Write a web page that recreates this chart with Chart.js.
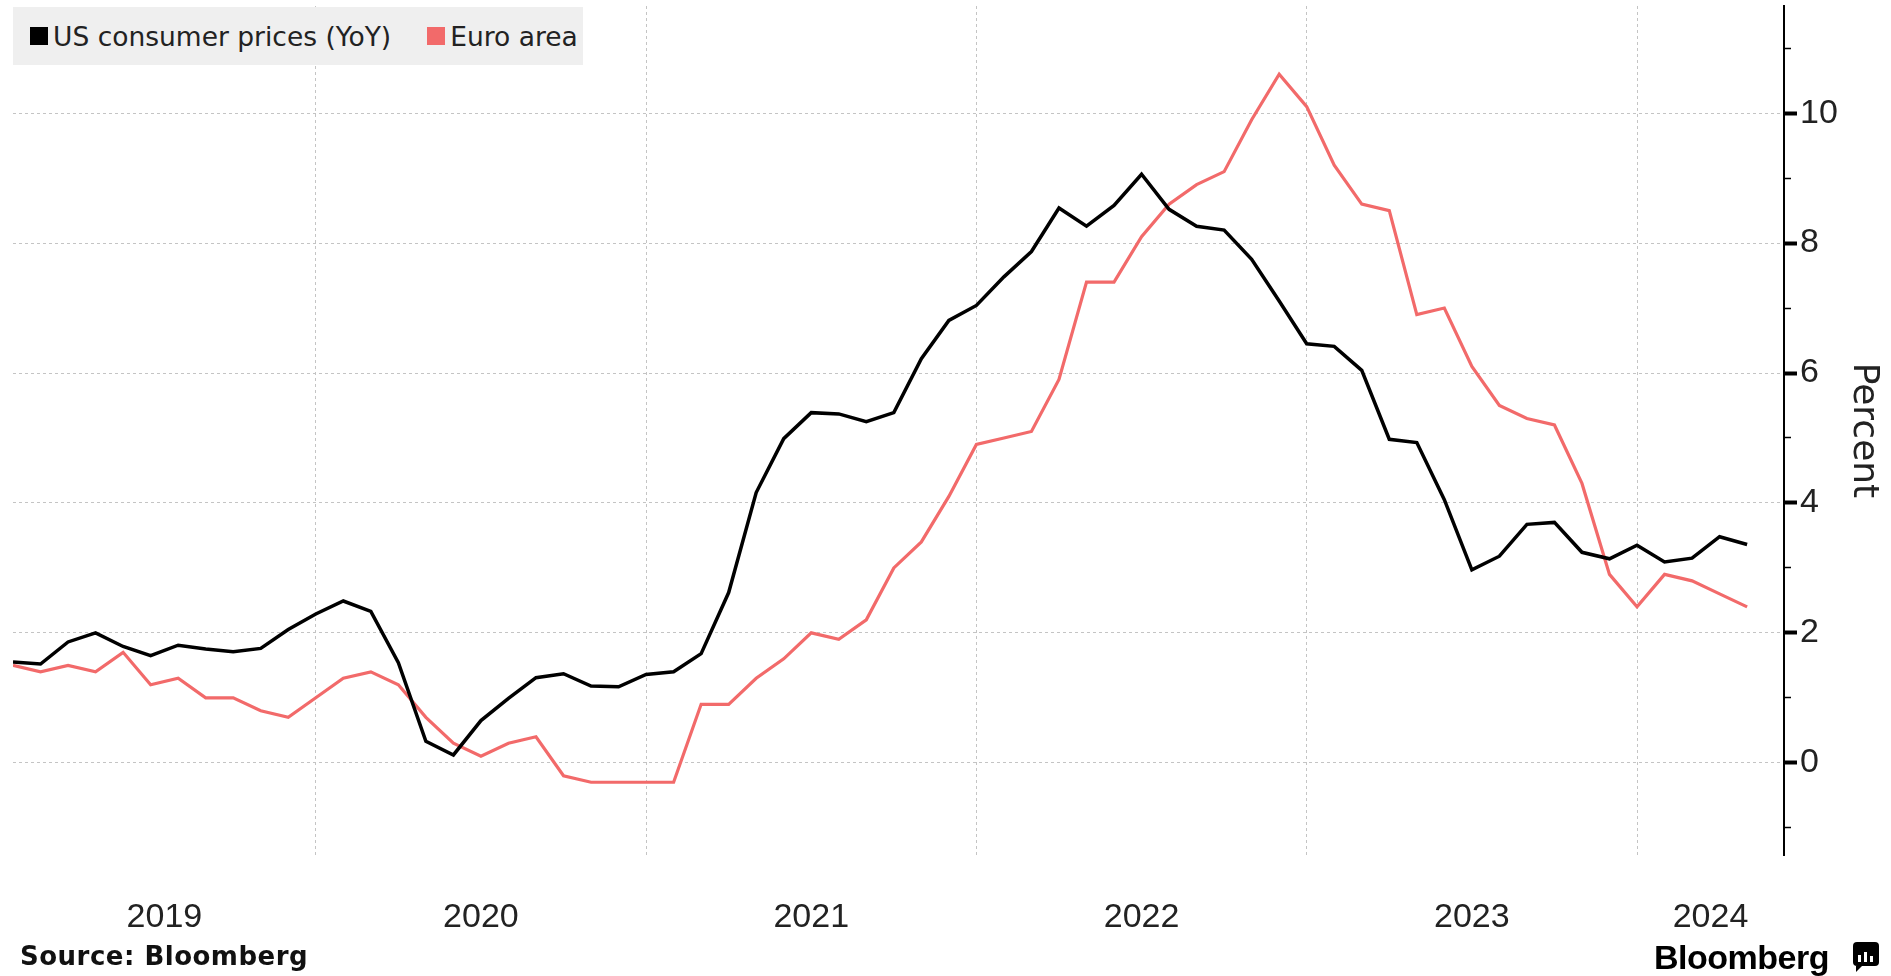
<!DOCTYPE html>
<html>
<head>
<meta charset="utf-8">
<title>US vs Euro area inflation</title>
<script src="https://cdn.jsdelivr.net/npm/chart.js@4.4.1/dist/chart.umd.min.js"></script>
<style>
  html, body { margin: 0; padding: 0; background: #fff; }
  #wrap { position: relative; width: 1891px; height: 976px; }
  #myChart { position: absolute; left: 0; top: 0; }
  #legend {
    position: absolute; left: 13px; top: 7px; width: 570px; height: 58px;
    background: #efefef; font-family: 'DejaVu Sans', sans-serif; font-size: 26.5px; color: #222;
    display: flex; align-items: center; white-space: nowrap;
  }
  #legend .item { display: flex; align-items: center; margin-left: 17px; }
  #legend .item + .item { margin-left: 36px; }
  #legend .box { width: 18px; height: 18px; margin-right: 5px; }
  #source {
    position: absolute; left: 20px; top: 941px; font-family: 'DejaVu Sans', sans-serif;
    font-weight: bold; font-size: 26px; letter-spacing: 0.5px; color: #111;
  }
  #brand {
    position: absolute; left: 1654px; top: 938px; font-family: 'Liberation Sans', sans-serif;
    font-weight: bold; font-size: 34px; color: #000; letter-spacing: -0.5px;
  }
  #icon {
    position: absolute; left: 1853px; top: 942px; width: 26px; height: 24px;
    background: #000; border-radius: 4px;
  }
  #icon:after {
    content: ''; position: absolute; left: 3px; bottom: -6px;
    border-left: 6px solid #000; border-bottom: 6px solid transparent;
  }
  #icon span { position: absolute; bottom: 4px; width: 3px; background: #fff; }
</style>
</head>
<body>
<div id="wrap">
  <canvas id="myChart" width="1891" height="976"></canvas>
  <div id="legend"></div>
  <div id="source">Source: Bloomberg</div>
  <div id="brand">Bloomberg</div>
  <div id="icon"><span style="left:5px;height:7px"></span><span style="left:11px;height:10px"></span><span style="left:17px;height:6px"></span></div>
</div>
<script>
// monthly observations, Jan 2019 - Apr 2024
const months = [
  '2019-01','2019-02','2019-03','2019-04','2019-05','2019-06','2019-07','2019-08','2019-09','2019-10','2019-11','2019-12',
  '2020-01','2020-02','2020-03','2020-04','2020-05','2020-06','2020-07','2020-08','2020-09','2020-10','2020-11','2020-12',
  '2021-01','2021-02','2021-03','2021-04','2021-05','2021-06','2021-07','2021-08','2021-09','2021-10','2021-11','2021-12',
  '2022-01','2022-02','2022-03','2022-04','2022-05','2022-06','2022-07','2022-08','2022-09','2022-10','2022-11','2022-12',
  '2023-01','2023-02','2023-03','2023-04','2023-05','2023-06','2023-07','2023-08','2023-09','2023-10','2023-11','2023-12',
  '2024-01','2024-02','2024-03','2024-04'
];

const usCpi = [
  1.55, 1.52, 1.86, 2.00, 1.79, 1.65, 1.81, 1.75, 1.71, 1.76, 2.05, 2.29,
  2.49, 2.33, 1.54, 0.33, 0.12, 0.65, 0.99, 1.31, 1.37, 1.18, 1.17, 1.36,
  1.40, 1.68, 2.62, 4.16, 4.99, 5.39, 5.37, 5.25, 5.39, 6.22, 6.81, 7.04,
  7.48, 7.87, 8.54, 8.26, 8.58, 9.06, 8.52, 8.26, 8.20, 7.75, 7.11, 6.45,
  6.41, 6.04, 4.98, 4.93, 4.05, 2.97, 3.18, 3.67, 3.70, 3.24, 3.14, 3.35,
  3.09, 3.15, 3.48, 3.36
];

const euroArea = [
  1.5, 1.4, 1.5, 1.4, 1.7, 1.2, 1.3, 1.0, 1.0, 0.8, 0.7, 1.0,
  1.3, 1.4, 1.2, 0.7, 0.3, 0.1, 0.3, 0.4, -0.2, -0.3, -0.3, -0.3,
  -0.3, 0.9, 0.9, 1.3, 1.6, 2.0, 1.9, 2.2, 3.0, 3.4, 4.1, 4.9,
  5.0, 5.1, 5.9, 7.4, 7.4, 8.1, 8.6, 8.9, 9.1, 9.9, 10.6, 10.1,
  9.2, 8.6, 8.5, 6.9, 7.0, 6.1, 5.5, 5.3, 5.2, 4.3, 2.9, 2.4,
  2.9, 2.8, 2.6, 2.4
];

const seriesNames = ['US consumer prices (YoY)', 'Euro area'];
const seriesColors = ['#000000', '#f26a6a'];
const yearLabels = ['2019', '2020', '2021', '2022', '2023', '2024'];
const yTicks = [-1, 0, 1, 2, 3, 4, 5, 6, 7, 8, 9, 10, 11];

// x in months counted from 1 Jan 2019, each point sits at its month end
function monthPos(m) {
  const [y, mo] = m.split('-').map(Number);
  return (y - 2019) * 12 + mo;
}
const X_MIN = 1, X_MAX = 65.34;

const yearStarts = yearLabels.map(y => (Number(y) - 2019) * 12);
const yearCenters = yearStarts.map(s => (Math.max(s, X_MIN) + Math.min(s + 12, X_MAX)) / 2);

// legend (overlaid on the plot, like the original)
const legend = document.getElementById('legend');
seriesNames.forEach((name, i) => {
  const item = document.createElement('div');
  item.className = 'item';
  item.innerHTML = '<div class="box" style="background:' + seriesColors[i] + '"></div>' + name;
  legend.appendChild(item);
});

const gridColor = '#c4c4c4';
const noPad = s => { s.paddingTop = 0; s.paddingBottom = 0; s.paddingLeft = 0; s.paddingRight = 0; };

const ctx = document.getElementById('myChart').getContext('2d');
const myChart = new Chart(ctx, {
  type: 'line',
  data: {
    datasets: [
      {
        label: seriesNames[0],
        data: months.map((m, i) => ({ x: monthPos(m), y: usCpi[i] })),
        borderColor: seriesColors[0],
        borderWidth: 3.5,
        pointRadius: 0,
        tension: 0
      },
      {
        label: seriesNames[1],
        data: months.map((m, i) => ({ x: monthPos(m), y: euroArea[i] })),
        borderColor: seriesColors[1],
        borderWidth: 3.2,
        pointRadius: 0,
        tension: 0
      }
    ]
  },
  options: {
    responsive: false,
    animation: false,
    layout: { padding: { left: 13, top: 6, right: 0, bottom: 0 } },
    plugins: {
      legend: { display: false },
      tooltip: { enabled: false }
    },
    scales: {
      x: {
        type: 'linear',
        position: 'bottom',
        min: X_MIN,
        max: X_MAX,
        afterBuildTicks: s => { s.ticks = yearStarts.slice(1).map(v => ({ value: v })); },
        afterFit: s => { s.height = 0; noPad(s); },
        ticks: { display: false },
        grid: { color: gridColor, lineWidth: 1, drawTicks: false },
        border: { display: false, dash: [3, 3] }
      },
      x2: {
        type: 'linear',
        position: 'bottom',
        min: X_MIN,
        max: X_MAX,
        afterBuildTicks: s => { s.ticks = yearCenters.map(v => ({ value: v })); },
        afterFit: s => { s.height = 121; noPad(s); },
        ticks: {
          callback: (v, i) => yearLabels[i],
          autoSkip: false,
          maxRotation: 0,
          padding: 34,
          color: '#222',
          font: { family: 'Liberation Sans', size: 34 }
        },
        grid: { display: false },
        border: { display: false }
      },
      y: {
        type: 'linear',
        position: 'right',
        min: -1.42,
        max: 11.65,
        afterBuildTicks: s => { s.ticks = yTicks.map(v => ({ value: v })); },
        afterFit: s => { s.width = 107; noPad(s); },
        ticks: {
          callback: v => (v % 2 === 0 ? String(v) : ''),
          padding: 3,
          color: '#222',
          font: { family: 'Liberation Sans', size: 34 }
        },
        grid: {
          color: c => (c.tick && c.tick.value % 2 === 0 ? gridColor : 'rgba(0,0,0,0)'),
          lineWidth: 1,
          tickColor: '#000',
          tickLength: 13,
          tickWidth: c => (c.tick && c.tick.value % 2 === 0 ? 4 : 1.5),
          tickBorderDash: c => (c.tick && c.tick.value % 2 === 0 ? [] : [6, 40])
        },
        border: { display: true, color: '#000', width: 2, dash: [3, 3] },
        title: {
          display: true,
          text: 'Percent',
          color: '#222',
          padding: { top: 6, bottom: 0 },
          font: { family: 'DejaVu Sans', size: 36 }
        }
      }
    }
  }
});
</script>
</body>
</html>
